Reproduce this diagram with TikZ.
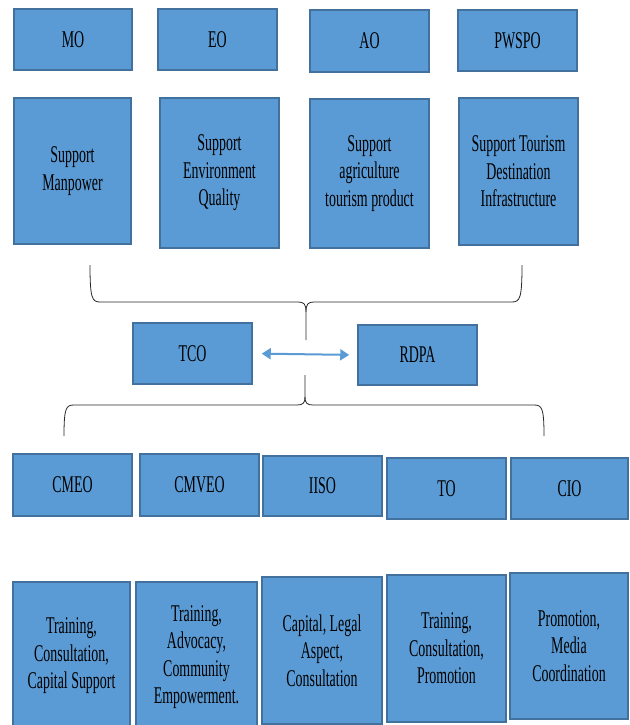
\documentclass[tikz,border=0pt]{standalone}
\usepackage{fontspec}
\setmainfont{Liberation Serif}[FakeStretch=0.58]
\usetikzlibrary{arrows.meta}
\definecolor{boxfill}{RGB}{91,155,213}
\definecolor{boxline}{RGB}{65,113,156}
\definecolor{linkblue}{RGB}{91,155,213}
\definecolor{bracecol}{RGB}{40,40,40}
\tikzset{
  orgbox/.style={draw=boxline, line width=1.5pt, fill=boxfill, align=center,
    inner sep=2pt, font=\rmfamily\fontsize{24}{27.5}\selectfont, text=black},
  bracket/.style={draw=bracecol, line width=0.8pt},
  link/.style={draw=linkblue, line width=2pt,
    {Triangle[length=9pt,width=11pt]}-{Triangle[length=9pt,width=11pt]},
    shorten <=9pt, shorten >=8pt}
}
\newcommand{\orgnode}[6]{%
  \node[orgbox, minimum width=#4pt, minimum height=#5pt] (#1) at (#2,#3) {#6};}
\begin{document}
\begin{tikzpicture}[x=1pt,y=-1pt]
\useasboundingbox (0,0) rectangle (629,725);
\path[clip] (0,0) rectangle (629,725);
\fill[white] (0,0) rectangle (629,725);

% offices, top row
\orgnode{mo}{73}{39.5}{118}{61}{MO}
\orgnode{eo}{217.5}{39.5}{119}{61}{EO}
\orgnode{ao}{369.5}{41}{119}{62}{AO}
\orgnode{pwspo}{517.5}{40.5}{119}{61}{PWSPO}

% their support tasks
\orgnode{sm}{72.5}{171}{117}{146}{Support\\Manpower}
\orgnode{seq}{219.5}{173}{119}{150}{Support\\Environment\\Quality}
\orgnode{sat}{369.5}{173.5}{119}{149}{Support\\agriculture\\tourism product}
\orgnode{std}{518.5}{171.5}{119}{147}{Support Tourism\\Destination\\Infrastructure}

% coordinating pair
\orgnode{tco}{192.5}{353.5}{119}{61}{TCO}
\orgnode{rdpa}{417.5}{355}{119}{60}{RDPA}
\draw[link] (tco.east) -- (rdpa.west);

% offices, lower row
\orgnode{cmeo}{72.5}{485}{119}{62}{CMEO}
\orgnode{cmveo}{199.5}{485}{119}{62}{CMVEO}
\orgnode{iiso}{322.5}{486}{119}{60}{IISO}
\orgnode{to}{446.5}{488.5}{119}{61}{TO}
\orgnode{cio}{569.5}{488.5}{117}{61}{CIO}

% their tasks
\orgnode{t1}{71.5}{656}{117}{148}{Training,\\Consultation,\\Capital Support}
\orgnode{t2}{196.5}{657}{121}{150}{Training,\\Advocacy,\\Community\\Empowerment.}
\orgnode{t3}{322}{650.5}{120}{147}{Capital, Legal\\Aspect,\\Consultation}
\orgnode{t4}{446.5}{648.5}{119}{147}{Training,\\Consultation,\\Promotion}
\orgnode{t5}{569}{646}{118}{146}{Promotion,\\Media\\Coordination}

% upper brace
\coordinate (ua) at (90,265);
\coordinate (ub) at (522,265);
\coordinate (utip) at (306,340);
\draw[bracket] (ua) .. controls (90,298) and (92,302) .. (100,302) -- (298,302)
  .. controls (304,302) and (306,304) .. (306,312) -- (utip);
\draw[bracket] (306,312) .. controls (306,304) and (308,302) .. (314,302) -- (512,302)
  .. controls (520,302) and (522,298) .. (ub);

% lower brace
\coordinate (la) at (64,436);
\coordinate (lb) at (544,436);
\coordinate (ltip) at (305,375);
\draw[bracket] (ltip) -- (305,397) .. controls (305,403) and (303,405) .. (297,405)
  -- (74,405) .. controls (66,405) and (64,408) .. (la);
\draw[bracket] (305,397) .. controls (305,403) and (307,405) .. (313,405)
  -- (534,405) .. controls (542,405) and (544,408) .. (lb);
\end{tikzpicture}
\end{document}
